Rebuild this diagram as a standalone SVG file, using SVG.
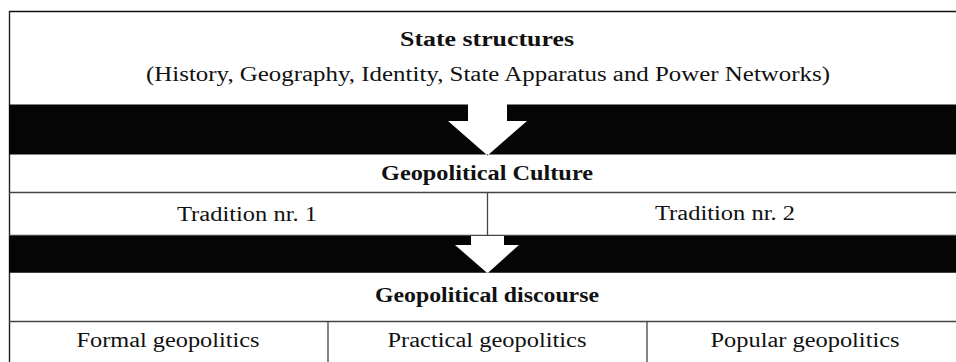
<svg xmlns="http://www.w3.org/2000/svg" width="956" height="362" viewBox="0 0 956 362">
  <style>
    text { font-family: "Liberation Serif", "Times New Roman", serif; font-size: 20px; fill: #111; text-anchor: middle; }
    .b { font-weight: bold; }
    .ln { stroke: #444; stroke-width: 1.3; fill: none; }
    .band { fill: #050505; }
  </style>
  <rect x="0" y="0" width="956" height="362" fill="#fff"/>
  <g id="frame">
    <line x1="9" y1="11.5" x2="956" y2="11.5" stroke="#111" stroke-width="1.5"/>
    <line x1="9.5" y1="11" x2="9.5" y2="362" stroke="#222" stroke-width="1.4"/>
  </g>
  <g id="connectors">
    <path id="arrow1" class="band" fill-rule="evenodd" d="M9,104.5 H956 V154.5 H9 Z M468,104.5 H507 V121 H527 L487.5,155.5 L448,121 H468 Z"/>
    <path id="arrow2" class="band" fill-rule="evenodd" d="M9,236 H956 V272.7 H9 Z M471,236 H504 V245 H519 L487.5,273.2 L455,245 H471 Z"/>
  </g>
  <g id="lines">
    <line class="ln" x1="9" y1="192.5" x2="956" y2="192.5"/>
    <line class="ln" x1="9" y1="235.3" x2="956" y2="235.3"/>
    <line class="ln" x1="487.5" y1="192.5" x2="487.5" y2="235.5"/>
    <line class="ln" x1="9" y1="321.5" x2="956" y2="321.5"/>
    <line class="ln" x1="328" y1="321.5" x2="328" y2="362"/>
    <line class="ln" x1="647" y1="321.5" x2="647" y2="362"/>
  </g>
  <g id="state-structures">
    <text class="b" x="487" y="46" textLength="174" lengthAdjust="spacingAndGlyphs">State structures</text>
    <text x="488" y="81" textLength="684" lengthAdjust="spacingAndGlyphs">(History, Geography, Identity, State Apparatus and Power Networks)</text>
  </g>
  <g id="geopolitical-culture">
    <text class="b" x="487" y="180" textLength="212" lengthAdjust="spacingAndGlyphs">Geopolitical Culture</text>
  </g>
  <g id="tradition-1">
    <text x="247" y="221" textLength="140" lengthAdjust="spacingAndGlyphs">Tradition nr. 1</text>
  </g>
  <g id="tradition-2">
    <text x="725" y="220" textLength="140" lengthAdjust="spacingAndGlyphs">Tradition nr. 2</text>
  </g>
  <g id="geopolitical-discourse">
    <text class="b" x="487" y="302" textLength="224" lengthAdjust="spacingAndGlyphs">Geopolitical discourse</text>
  </g>
  <g id="formal-geopolitics">
    <text x="168" y="347" textLength="183" lengthAdjust="spacingAndGlyphs">Formal geopolitics</text>
  </g>
  <g id="practical-geopolitics">
    <text x="487" y="347" textLength="199" lengthAdjust="spacingAndGlyphs">Practical geopolitics</text>
  </g>
  <g id="popular-geopolitics">
    <text x="805" y="347" textLength="189" lengthAdjust="spacingAndGlyphs">Popular geopolitics</text>
  </g>
</svg>
